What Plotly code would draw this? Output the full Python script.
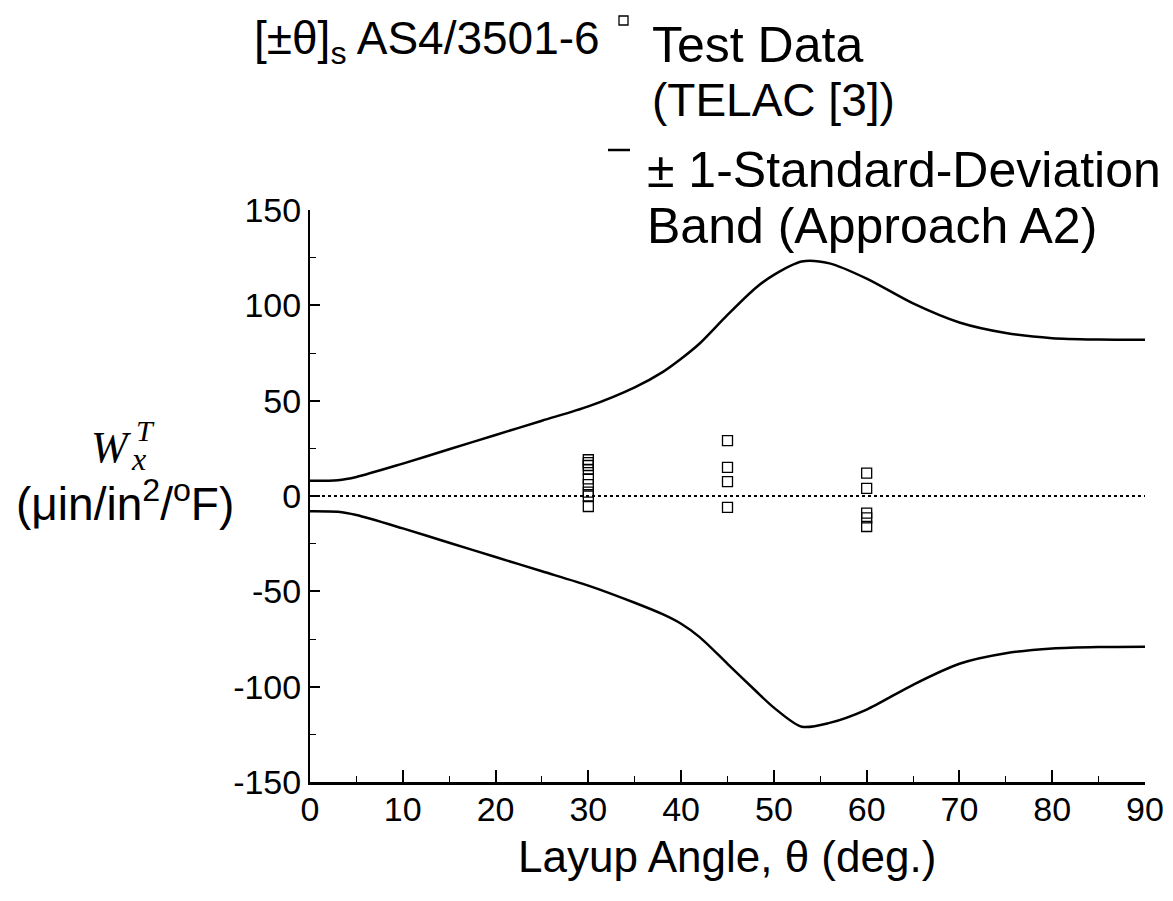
import plotly.graph_objects as go

# ---------------- data ----------------
angle = [0, 3, 5, 10, 15, 20, 25, 30, 35, 38, 40, 42, 45, 48, 50, 53, 56, 60, 65, 70, 75, 80, 85, 90]
upper_band = [8, 8.3, 10, 17, 24.5, 32, 39.5, 47, 57, 65, 72, 80, 95, 109, 116, 123, 122, 114, 101, 91, 85.5, 82.8, 82.1, 82]
lower_band = [-8, -8.3, -10, -17, -24.5, -32, -39.5, -47, -56, -62, -67, -74, -88, -102, -111, -121, -119, -112, -99, -88, -82.5, -80, -79.2, -79]

test_angle = [30, 30, 30, 30, 30, 30, 30, 30, 30,
              45, 45, 45, 45,
              60, 60, 60, 60, 60]
test_value = [19, 17.5, 16, 14, 9, 6, 2, 0, -5.5,
              29, 15, 7.5, -6,
              12, 4, -9, -11.5, -16]

zero_x = [0, 90]
zero_y = [0, 0]

x_ticks = [0, 10, 20, 30, 40, 50, 60, 70, 80, 90]
y_ticks = [-150, -100, -50, 0, 50, 100, 150]

# ---------------- layout geometry (window pixels) ----------------
WIN_W, WIN_H = 1173, 901
OFF = 8                      # default page margin around the plot div
FIG_W, FIG_H = WIN_W - OFF, WIN_H - OFF
L, R, T, B = 310, 1145, 210, 782
PW, PH = R - L, B - T


def px(x):
    return (x - L) / PW


def py(y):
    return (B - y) / PH


SANS = "Liberation Sans, Arial, sans-serif"
SERIF = "Liberation Serif, Times New Roman, serif"

fig = go.Figure()

fig.add_trace(go.Scatter(x=angle, y=upper_band, mode="lines",
                         line=dict(color="black", width=2.5, shape="spline", smoothing=0.8),
                         showlegend=False, hoverinfo="skip"))
fig.add_trace(go.Scatter(x=angle, y=lower_band, mode="lines",
                         line=dict(color="black", width=2.5, shape="spline", smoothing=0.8),
                         showlegend=False, hoverinfo="skip"))
fig.add_trace(go.Scatter(x=zero_x, y=zero_y, mode="lines",
                         line=dict(color="black", width=2, dash="dot"),
                         showlegend=False, hoverinfo="skip"))
fig.add_trace(go.Scatter(x=test_angle, y=test_value, mode="markers",
                         marker=dict(symbol="square-open", size=10, color="black",
                                     line=dict(width=1.3, color="black")),
                         showlegend=False))

axis_common = dict(
    showgrid=False, zeroline=False, showline=True, linecolor="black",
    ticks="inside", tickcolor="black", mirror=False,
    tickfont=dict(family=SANS, size=34, color="black"),
)

fig.update_xaxes(range=[0, 90], tickvals=x_ticks, ticktext=[str(v) for v in x_ticks],
                 linewidth=2.5, ticklen=12, tickwidth=1.5, ticklabelstandoff=-5,
                 minor=dict(ticks="inside", dtick=5, ticklen=6, tickcolor="black", tickwidth=1),
                 **axis_common)
fig.update_yaxes(range=[-150, 150], tickvals=y_ticks, ticktext=[str(v) for v in y_ticks],
                 linewidth=2, ticklen=10, tickwidth=1.5,
                 minor=dict(ticks="inside", dtick=25, ticklen=6, tickcolor="black", tickwidth=1),
                 **axis_common)

ann = []


def text(x, y, s, size=46, family=SANS, xanchor="left", yanchor="middle"):
    ann.append(dict(x=px(x), y=py(y), xref="paper", yref="paper", text=s,
                    showarrow=False, xanchor=xanchor, yanchor=yanchor,
                    font=dict(family=family, size=size, color="black")))


# header / legend
text(252, 42, "[±θ]<sub>s</sub> AS4/3501-6", size=46)
text(650, 45, "Test Data", size=50)
text(650, 100, "(TELAC [3])", size=46)
text(645, 170, "± 1-Standard-Deviation", size=50)
text(645, 226, "Band (Approach A2)", size=50)

# y-axis title
text(111, 447, "<i>W</i>", size=44, family=SERIF, xanchor="center")
text(138, 459, "<i>x</i>", size=32, family=SERIF, xanchor="center")
text(145, 430, "<i>T</i>", size=30, family=SERIF, xanchor="center")
text(125, 501, "(μin/in<sup>2</sup>/<sup>o</sup>F)", size=46, xanchor="center")

# x-axis title
text(727, 856, "Layup Angle, θ (deg.)", size=44, xanchor="center")

shapes = [
    # legend symbol: open square
    dict(type="rect", xref="paper", yref="paper",
         x0=px(619), x1=px(628), y0=py(25), y1=py(16),
         line=dict(color="black", width=1.3)),
    # legend symbol: line
    dict(type="line", xref="paper", yref="paper",
         x0=px(608), x1=px(630), y0=py(150), y1=py(150),
         line=dict(color="black", width=2.5)),
]

fig.update_layout(
    width=FIG_W, height=FIG_H,
    margin=dict(l=L - OFF, r=WIN_W - R, t=T - OFF, b=WIN_H - B, autoexpand=False),
    paper_bgcolor="white", plot_bgcolor="white",
    annotations=ann, shapes=shapes, showlegend=False,
)

fig.write_html("out.html")
